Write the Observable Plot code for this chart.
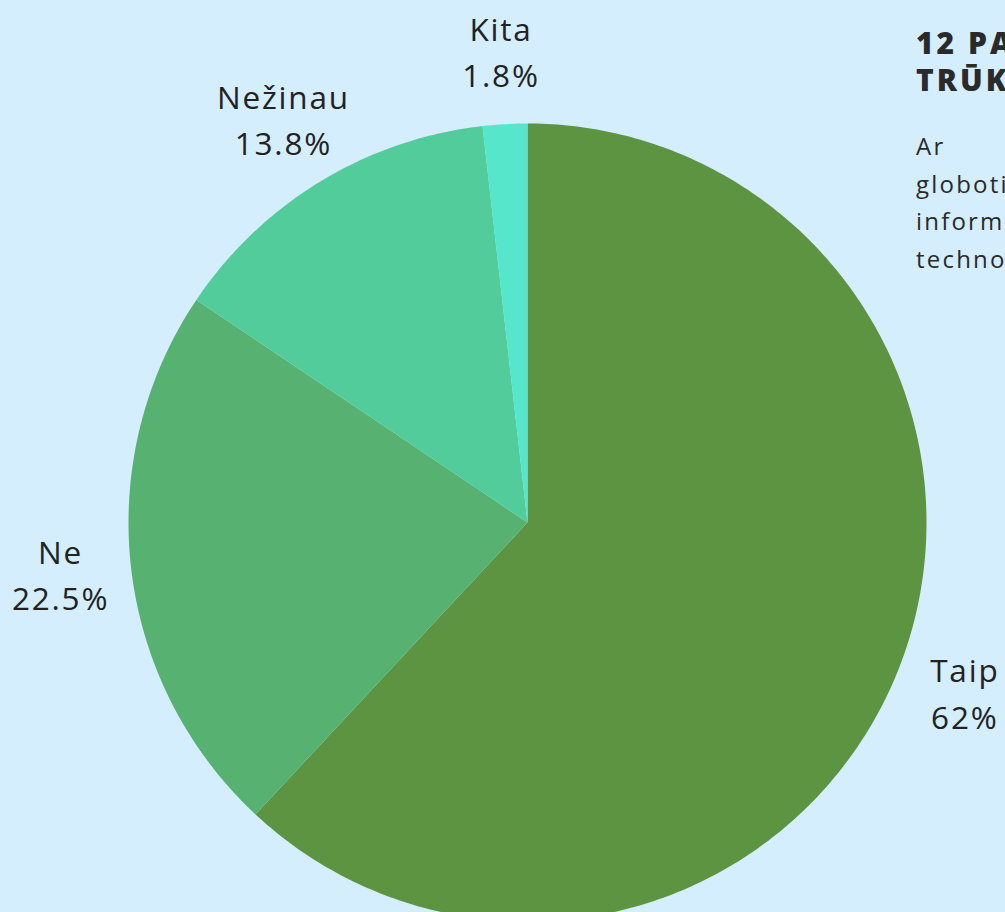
<!DOCTYPE html>
<html><head><meta charset="utf-8">
<script src="https://cdn.jsdelivr.net/npm/d3@7"></script>
<script src="https://cdn.jsdelivr.net/npm/@observablehq/plot@0.6"></script>
<style>
html,body{margin:0;padding:0;background:#d4eefd;overflow:hidden;width:1005px;height:912px;}
#wrap{position:relative;width:1005px;height:912px;overflow:hidden;}
#side{position:absolute;left:916px;top:24px;white-space:nowrap;font-family:"Open Sans",sans-serif;color:#2a2a2a;}
#side .t{font-weight:800;font-size:30px;letter-spacing:3px;line-height:37px;}
#side .b{margin-top:29px;font-size:24px;letter-spacing:2.2px;line-height:37.5px;font-weight:400;}
svg text{letter-spacing:1.8px;}
</style></head>
<body><div id="wrap"><div id="chart"></div>
<div id="side"><div class="t">12 PAVEIKSLAS<br>TRŪKUMAS</div>
<div class="b">Ar<br>globotiniai<br>informacinių<br>technologijų</div></div></div>
<script>
const categories = ["Taip", "Ne", "Nežinau", "Kita"];
const values = [62, 22.5, 13.8, 1.8];
const valueLabels = ["62%", "22.5%", "13.8%", "1.8%"];
const colors = ["#5c9442", "#57b171", "#53cc9c", "#56e6cc"];

const W = 1005, H = 912, cx = 527, cy = 522, R = 399;
const pie = d3.pie().sort(null).value(d => d.value)(categories.map((c, i) => ({cat: c, value: values[i], label: valueLabels[i]})));
const slicePts = [];
pie.forEach(p => {
  slicePts.push({cat: p.data.cat, x: 0, y: 0});
  const n = Math.max(4, Math.ceil((p.endAngle - p.startAngle) * 80));
  for (let k = 0; k <= n; k++) {
    const a = p.startAngle + (p.endAngle - p.startAngle) * k / n;
    slicePts.push({cat: p.data.cat, x: Math.sin(a), y: Math.cos(a)});
  }
  slicePts.push({cat: p.data.cat, x: 0, y: 0});
});
const lr = 1.178;
const labels = pie.map(p => {
  const a = (p.startAngle + p.endAngle) / 2;
  return {cat: p.data.cat, x: lr * Math.sin(a), y: lr * Math.cos(a), text: p.data.cat + "\n" + p.data.label};
});

const chart = Plot.plot({
  width: W, height: H, margin: 0,
  style: {background: "transparent", overflow: "hidden"},
  x: {domain: [-cx / R, (W - cx) / R], range: [0, W], axis: null},
  y: {domain: [-(H - cy) / R, cy / R], range: [H, 0], axis: null},
  color: {domain: categories, range: colors},
  marks: [
    Plot.line(slicePts, {x: "x", y: "y", z: "cat", fill: "cat", stroke: "none", curve: "linear"}),
    Plot.text(labels, {x: "x", y: "y", dy: -4, text: "text", fontSize: 31.5, fontWeight: 400, lineHeight: 1.47, fill: "#222", fontFamily: "Open Sans", textAnchor: "middle"})
  ]
});
document.getElementById("chart").appendChild(chart);
</script></body></html>
